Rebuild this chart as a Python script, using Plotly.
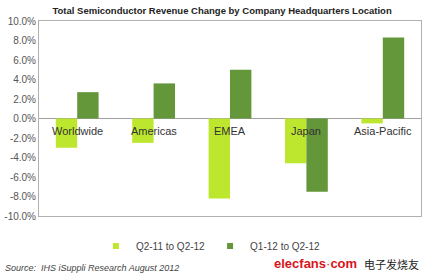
import plotly.graph_objects as go

categories = ["Worldwide", "Americas", "EMEA", "Japan", "Asia-Pacific"]
q2_11_to_q2_12 = [-3.0, -2.5, -8.2, -4.6, -0.5]
q1_12_to_q2_12 = [2.7, 3.6, 5.0, -7.5, 8.3]
series_names = ["Q2-11 to Q2-12", "Q1-12 to Q2-12"]
tick_vals = [-10, -8, -6, -4, -2, 0, 2, 4, 6, 8, 10]
tick_text = [f"{v:.1f}%" for v in tick_vals]

light = "#bde72f"
dark = "#64963a"
colors = [light, dark]

fig = go.Figure()
fig.add_trace(go.Bar(x=categories, y=q2_11_to_q2_12, name=series_names[0],
                     marker_color=light, marker_line_width=0, showlegend=False))
fig.add_trace(go.Bar(x=categories, y=q1_12_to_q2_12, name=series_names[1],
                     marker_color=dark, marker_line_width=0, showlegend=False))
for name, col in zip(series_names, colors):
    fig.add_trace(go.Scatter(x=[None], y=[None], mode="markers", name=name,
                             marker=dict(symbol="square", size=6, color=col)))

for c in categories:
    fig.add_annotation(x=c, y=-1.25, xref="x", yref="y", text=c, showarrow=False,
                       font=dict(family="Arial", size=11, color="#333333"))

fig.add_annotation(xref="paper", yref="paper", x=-0.093, y=-0.265, xanchor="left", yanchor="middle",
                   text="<i>Source:  IHS iSuppli Research August 2012</i>", showarrow=False,
                   font=dict(family="Arial", size=9, color="#444444"))

fig.add_annotation(xref="paper", yref="paper", x=0.61, y=-0.245, xanchor="left", yanchor="middle",
                   text="<b>elecfans</b>·<b>com</b>", showarrow=False,
                   font=dict(family="Arial", size=13, color="#d8141b"))
fig.add_annotation(xref="paper", yref="paper", x=1.0, y=-0.245, xanchor="right", yanchor="middle",
                   text="电子发烧友", showarrow=False,
                   font=dict(family="Noto Sans CJK SC", size=11, color="#222222"))

fig.update_layout(
    width=423, height=277,
    margin=dict(l=39, r=2, t=21, b=61),
    paper_bgcolor="white", plot_bgcolor="white",
    barmode="group", bargap=0.44, bargroupgap=0,
    title=dict(text="<b>Total Semiconductor Revenue Change by Company Headquarters Location</b>",
               x=0.525, xanchor="center", y=0.962, yanchor="middle",
               font=dict(family="Arial", size=9.5, color="#222222")),
    font=dict(family="Arial", size=10, color="#555555"),
    xaxis=dict(showticklabels=False, showline=True, linecolor="#b0b0b0", mirror=True,
               linewidth=1, ticks="", showgrid=False, zeroline=False),
    yaxis=dict(range=[-10, 10], tickvals=tick_vals, ticktext=tick_text,
               showline=True, linecolor="#b0b0b0", mirror=True, linewidth=1,
               showgrid=False, zeroline=True, zerolinecolor="#a0a0a0", zerolinewidth=1,
               ticks="", ticklen=0, tickfont=dict(family="Arial", size=10, color="#555555")),
    legend=dict(orientation="h", x=0.45, xanchor="center", y=-0.08, yanchor="top",
                font=dict(family="Arial", size=10, color="#444444"),
                itemwidth=30, tracegroupgap=0, traceorder="normal"),
    showlegend=True,
)

fig.write_html("out.html")
